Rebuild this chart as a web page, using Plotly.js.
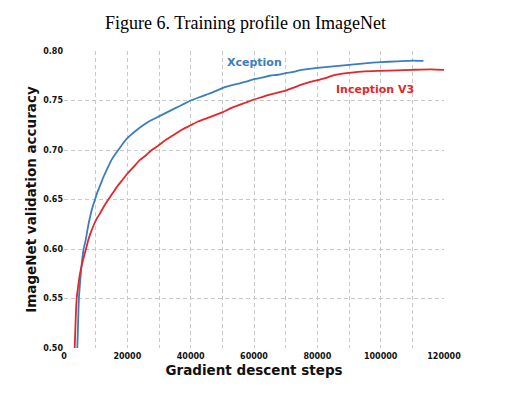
<!DOCTYPE html>
<html><head><meta charset="utf-8">
<script src="https://cdn.plot.ly/plotly-3.0.1.min.js"></script>
<style>html,body{margin:0;padding:0;background:#fff}#chart{width:513px;height:393px}</style>
</head><body><div id="chart"></div>
<script>
const xceptionSteps = [4200,4450,4700,5000,5300,5700,6200,6850,7400,8000,8800,9790,10600,11500,12500,13500,15000,16000,17150,18500,20000,22500,25000,27500,30000,32500,35000,37500,40000,42500,45000,47500,50000,52500,55000,57500,60000,62500,65000,67500,70000,72500,75000,77500,80000,85000,90000,95000,100000,105000,110000,113500];
const xceptionAcc = [0.500,0.525,0.550,0.563,0.575,0.588,0.600,0.609,0.619,0.629,0.640,0.650,0.658,0.665,0.673,0.680,0.690,0.695,0.700,0.706,0.712,0.719,0.725,0.730,0.734,0.738,0.742,0.746,0.750,0.753,0.756,0.759,0.7625,0.765,0.767,0.769,0.7716,0.773,0.775,0.776,0.7777,0.779,0.781,0.782,0.783,0.7845,0.786,0.7875,0.7888,0.7895,0.7903,0.790];
const inceptionSteps = [3370,3700,4000,4500,5050,5900,6950,7680,8500,9500,10400,11370,12600,14000,15500,17000,18500,20000,22000,24000,26000,27700,30000,32500,35000,37500,40000,42500,45000,47500,50000,52500,55000,57500,60000,62500,65000,67500,70000,72500,75000,77500,80000,82500,85000,87500,90000,95000,100000,105000,110000,116000,120000];
const inceptionAcc = [0.500,0.530,0.550,0.563,0.575,0.5875,0.600,0.609,0.617,0.625,0.631,0.636,0.643,0.650,0.657,0.664,0.670,0.676,0.683,0.690,0.695,0.700,0.705,0.711,0.716,0.721,0.725,0.729,0.732,0.735,0.738,0.742,0.745,0.748,0.751,0.7535,0.756,0.758,0.760,0.763,0.766,0.7685,0.7705,0.7725,0.7755,0.777,0.778,0.7795,0.780,0.7805,0.781,0.7815,0.781];
const xTickVals = [0,10000,20000,30000,40000,50000,60000,70000,80000,90000,100000,110000,120000];
const xTickText = ['0','','20000','','40000','','60000','','80000','','100000','','120000'];
const yTickVals = [0.50,0.55,0.60,0.65,0.70,0.75,0.80];
const yTickText = ['0.50','0.55','0.60','0.65','0.70','0.75','0.80'];
const seriesNames = ['Xception','Inception V3'];

const BLUE = '#3b7ebf', RED = '#e4262b';
const boldFont = {family:'DejaVu Sans', weight:'bold', color:'#111'};

const traces = [
  {x: xceptionSteps, y: xceptionAcc, name: seriesNames[0], mode:'lines', line:{color:BLUE, width:1.8, shape:'spline', smoothing:0.5}},
  {x: inceptionSteps, y: inceptionAcc, name: seriesNames[1], mode:'lines', line:{color:RED, width:1.8, shape:'spline', smoothing:0.5}}
];

const layout = {
  width:513, height:393,
  margin:{l:64, r:69, t:51, b:45},
  paper_bgcolor:'#fff', plot_bgcolor:'#fff',
  showlegend:false,
  title:{text:'Figure 6. Training profile on ImageNet', font:{family:'Liberation Serif', size:18, color:'#000'},
         x:245.5/513, xref:'container', xanchor:'center', y:1-23/393, yref:'container', yanchor:'middle'},
  xaxis:{range:[0,120000], tickvals:xTickVals, ticktext:xTickText, showgrid:true, gridcolor:'#c8c8c8', griddash:'4px,3px', gridwidth:1,
         zeroline:false, showline:false, ticks:'', ticklabelstandoff:2, tickfont:Object.assign({size:8}, boldFont),
         title:{text:'Gradient descent steps', font:Object.assign({size:13.5}, boldFont), standoff:5}},
  yaxis:{range:[0.5,0.8], tickvals:yTickVals, ticktext:yTickText, showgrid:true, gridcolor:'#c8c8c8', griddash:'4px,3px', gridwidth:1,
         zeroline:false, showline:false, ticks:'', tickfont:Object.assign({size:8}, boldFont),
         title:{text:'ImageNet validation accuracy', font:Object.assign({size:13.5}, boldFont), standoff:3}},
  annotations:[
    {x:60150, y:0.7882, xref:'x', yref:'y', text:seriesNames[0], showarrow:false, font:{family:'DejaVu Sans', weight:'bold', size:11, color:BLUE}},
    {x:98360, y:0.7616, xref:'x', yref:'y', text:seriesNames[1], showarrow:false, font:{family:'DejaVu Sans', weight:'bold', size:11, color:RED}}
  ]
};
Plotly.newPlot('chart', traces, layout, {displayModeBar:false, staticPlot:true});
</script></body></html>
